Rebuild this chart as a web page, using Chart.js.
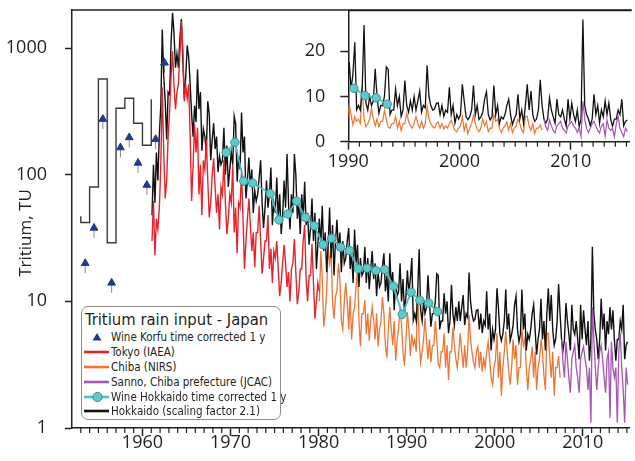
<!DOCTYPE html>
<html lang="en">
<head>
<meta charset="UTF-8">
<title>Tritium rain input - Japan</title>
<script src="https://cdn.jsdelivr.net/npm/chart.js"></script>
<style>
    body { margin: 0; background: #fff; }
    .wrap {
        position: relative;
        width: 635px;
        height: 461px;
        font-family: "DejaVu Sans Condensed", "Liberation Sans", sans-serif;
        color: #231f20;
    }
    #mainChart { position: absolute; left: 0; top: 0; }
    #insetChart { position: absolute; left: 300px; top: 0; }
    .legend {
        position: absolute;
        left: 81px;
        top: 306px;
        width: 200px;
        height: 114px;
        box-sizing: border-box;
        border: 1px solid #8c8c8c;
        border-radius: 7px;
        background: #fff;
    }
    .legend-title {
        font-size: 16.5px;
        line-height: 20px;
        height: 20px;
        margin-top: 3px;
        padding-left: 3px;
        white-space: nowrap;
    }
    .legend-row {
        display: flex;
        align-items: center;
        height: 14.8px;
    }
    .legend-row svg { flex: none; margin-left: 1px; }
    .legend-row span { font-size: 11.5px; line-height: 14px; white-space: nowrap; margin-left: 2px; }
</style>
</head>
<body>
<div class="wrap">
    <canvas id="mainChart" width="635" height="461"></canvas>
    <canvas id="insetChart" width="335" height="175"></canvas>
    <div class="legend" id="legend"></div>
</div>

<script>
    // Wine Korfu, time corrected 1 y (annual points)
    const korfuYears = [1953.5, 1954.5, 1955.5, 1956.5, 1957.5, 1958.5, 1959.5, 1960.5, 1961.5, 1962.5];
    const korfuTU = [20, 38, 275, 14, 164, 197, 124, 83, 191, 766];

    // early annual estimate drawn as a step line (value holds until next year)
    const stepYears = [1953, 1953, 1954, 1955, 1956, 1957, 1958, 1959, 1960, 1961];
    const stepTU = [47, 42, 80, 570, 29, 335, 402, 255, 171, 394];

    // bimonthly series, 6 values per year from the start year
    const tokyoStart = 1961;
    const tokyoTU = [
        30, 62, 23, 45, 37, 55,
        120, 490, 150, 65, 90, 200,
        320, 600, 946, 500, 330, 450,
        520, 900, 1630, 1000, 380, 500,
        400, 518, 200, 62, 120, 250,
        150, 235, 70, 120, 48, 130,
        110, 190, 90, 46, 60, 100,
        135, 80, 50, 70, 37, 80,
        70, 130, 60, 34, 45, 70,
        60, 120, 35, 55, 24, 60,
        55, 108, 45, 18, 30, 45,
        65, 40, 25, 35, 18.6, 35,
        35, 57, 30, 16.5, 22, 30,
        30, 48, 18, 26, 14, 25,
        22, 30, 18, 11, 14, 20,
        28, 20, 13, 17, 10, 18,
        20, 31, 17, 9.5, 12, 18,
        18, 30, 40, 15, 10, 16,
        16, 28.5, 14, 7.3, 10, 14,
        12
    ];

    const chibaStart = 1980;
    const chibaTU = [
        10, 25, 15, 6.3, 8, 12,
        27, 20, 25, 10, 7.3, 11,
        12, 20, 15, 7, 6, 10,
        14, 10, 6, 11, 5, 8,
        9, 13, 17.8, 7, 4.4, 8,
        8, 10.2, 5.5, 8, 4.9, 7,
        9, 7, 5, 8, 4.4, 6,
        7, 10.8, 8, 4.5, 3.6, 6,
        9, 6, 4.5, 7, 3.4, 5,
        6, 9, 6.5, 4, 3.1, 5,
        8.2, 6, 3.7, 5.5, 4.5, 5,
        4, 12.2, 5, 3.3, 4, 5,
        7.4, 5, 3.5, 5, 3.3, 4.5,
        4.5, 7, 5, 3.2, 3, 4,
        4, 5.6, 3, 4.5, 2.4, 4,
        4, 6.3, 4.5, 3.5, 3, 4,
        5.6, 4, 3, 4.5, 3, 4,
        7.8, 5, 4, 3.3, 3, 4,
        4.4, 3, 4, 2.8, 3.5, 3,
        4, 4.8, 3.5, 2.5, 2.2, 3,
        3.5, 5.6, 2.5, 4, 1.8, 3,
        4, 5.8, 4, 2.8, 2.2, 3,
        5, 3.5, 4.5, 2.2, 3, 3,
        6, 4.5, 5, 3, 2, 3,
        3.5, 4.4, 2.5, 4, 2, 3,
        3.5, 5, 4, 2.6, 2, 5.6,
        5.6, 3.5, 2.5, 4, 1.8, 3,
        3, 3.7, 2.5
    ];

    const sannoStart = 2007.5;
    const sannoTU = [
        5, 3.3, 2.5,
        4.8, 3.5, 2.5, 1.9, 3.5, 4,
        4.5, 3, 2.5, 1.9, 3.5, 4,
        4.4, 3.5, 3, 2, 3, 1.1,
        9, 5, 3, 2, 3, 4,
        4.5, 3.5, 2.5, 1.9, 3.5, 4,
        1.2, 4.8, 3, 2.5, 3, 1.1,
        4, 5.6, 3, 2, 1.1, 3,
        2.2
    ];

    const hokkaidoStart = 1961;
    const hokkaidoTU = [
        48, 120, 60, 150, 90, 210,
        350, 1400, 600, 380, 190, 450,
        430, 1100, 1900, 1300, 700, 900,
        700, 1200, 1700, 800, 400, 600,
        1050, 850, 520, 300, 200, 350,
        260, 680, 330, 450, 155, 230,
        200, 150, 380, 300, 130, 190,
        255, 160, 200, 105, 140, 120,
        130, 235, 100, 170, 80, 110,
        150, 120, 290, 250, 88, 140,
        110, 310, 150, 200, 65, 90,
        137, 80, 110, 50, 75, 62,
        70, 95, 130, 60, 38, 55,
        90, 55, 70, 114, 40, 60,
        50, 95, 45, 70, 34, 48,
        90, 55, 146, 60, 37, 70,
        50, 146, 100, 45, 60, 34,
        70, 45, 88, 40, 50, 28,
        38, 65, 30, 50, 18, 28,
        45, 28, 57, 25, 35, 17,
        28, 55, 22, 40, 16, 30,
        44, 25, 35, 17, 30, 20,
        22, 30, 38, 18, 24, 14,
        37, 20, 28, 13, 22, 16,
        17, 27, 14, 22, 12.5, 18,
        25, 15, 20, 11, 17, 13,
        14, 19, 24, 12, 16, 10,
        24, 13, 17, 8.5, 14, 11,
        12, 20, 10, 15, 8, 11,
        17.6, 11.6, 15, 22, 7.1, 8,
        7, 12, 25.8, 8.6, 7, 10,
        8, 9, 16.1, 10, 6.3, 8,
        8, 10, 16.5, 16, 6, 7,
        7, 11.6, 8, 10, 5.6, 7,
        13.5, 8, 6.5, 9, 7, 10,
        7, 9, 11.2, 6.5, 8, 7.5,
        16.9, 10, 8, 7, 7.2, 8.5,
        8.6, 6, 8, 5.6, 7, 6.5,
        12, 6, 8, 4.1, 6, 5,
        6, 12.7, 9, 5.5, 4.9, 5.5,
        7, 12.4, 6, 8, 4.9, 5.5,
        6.5, 9.4, 11, 6, 4.8, 5.5,
        12.4, 6, 8, 4.1, 5.5, 5,
        6, 8, 9.4, 6, 3.8, 5,
        6, 10.5, 5, 7, 4.1, 8,
        12.7, 7, 11.2, 6, 4.5, 5,
        7, 13.7, 8, 5, 4.1, 5,
        9.7, 7, 5.5, 4.1, 9.4, 6,
        5.5, 7, 5, 3.5, 9.4, 5,
        8.5, 6, 4.5, 7, 3.4, 5,
        27, 8, 6, 5, 3.5, 5,
        10.5, 6, 8, 4.1, 7, 5.5,
        9, 6, 8.5, 5, 3.4, 5,
        5, 7, 6, 9.4, 3.5, 4.5,
        4.8
    ];

    // Wine Hokkaido, time corrected 1 y
    const wineYears = [1969.5, 1970.5, 1971.5, 1972.5, 1974.5, 1975.5, 1976.5, 1977.5, 1978.5, 1979.5,
        1980.5, 1981.5, 1982.5, 1983.5, 1984.5, 1985.5, 1986.5, 1987.5, 1988.5, 1989.5,
        1990.5, 1991.5, 1992.5, 1993.5];
    const wineTU = [150, 180, 89, 86, 71, 44, 49, 62, 46, 39.5,
        28, 31.5, 26.8, 25.2, 18.1, 18.3, 17.5, 17.8, 13.2, 7.9,
        11.8, 10.2, 9.7, 8.3];

    const mainXTicks = [1960, 1970, 1980, 1990, 2000, 2010];
    const mainYTicks = [1, 10, 100, 1000];
    const insetXTicks = [1990, 2000, 2010];
    const insetYTicks = [0, 10, 20];

    const INK = '#231f20';
    const NAVY = '#1f3c88';
    const RED = '#e8222b';
    const ORANGE = '#f07432';
    const PURPLE = '#a555b3';
    const CYAN = '#4cbfc3';
    const CYAN_DARK = '#2c969b';
    const FONT = '"Open Sans", "Liberation Sans", sans-serif';
    const TICK_FONT = { family: FONT, size: 18, lineHeight: 1 };

    function bimonthly(start, values) {
        return values.map((v, i) => ({ x: start + (i + 0.5) / 6, y: v }));
    }
    function paired(xs, ys) {
        return xs.map((x, i) => ({ x: x, y: ys[i] }));
    }
    // keep the chart area exactly where the axes say, no room added for end labels
    function noPad(s) {
        s.paddingTop = 0; s.paddingBottom = 0; s.paddingLeft = 0; s.paddingRight = 0;
    }

    // minor year ticks, top border, error whiskers on the Korfu triangles, y title
    const framePlugin = {
        id: 'frame',
        beforeDatasetsDraw(chart, args, opts) {
            if (opts.whiskers === undefined) return;
            const meta = chart.getDatasetMeta(opts.whiskers);
            const ctx = chart.ctx;
            ctx.save();
            ctx.strokeStyle = '#8a8a8a';
            ctx.lineWidth = 1;
            meta.data.forEach(p => {
                ctx.beginPath();
                ctx.moveTo(p.x, p.y - 4);
                ctx.lineTo(p.x, p.y + 10);
                ctx.stroke();
            });
            ctx.restore();
        },
        afterDraw(chart, args, opts) {
            const ctx = chart.ctx;
            const area = chart.chartArea;
            const xs = chart.scales.x;
            ctx.save();
            ctx.strokeStyle = INK;
            ctx.lineWidth = 1.5;
            ctx.beginPath();
            ctx.moveTo(area.left, area.top);
            ctx.lineTo(area.right + 2, area.top);
            ctx.stroke();
            ctx.lineWidth = 1.2;
            for (let yr = opts.firstYear; yr <= opts.lastYear; yr++) {
                if (yr % 10 === 0) continue;
                const px = xs.getPixelForValue(yr);
                ctx.beginPath();
                ctx.moveTo(px, area.bottom);
                ctx.lineTo(px, area.bottom + 5);
                ctx.stroke();
            }
            if (opts.yTitle) {
                ctx.fillStyle = INK;
                ctx.font = '17px ' + FONT;
                ctx.textAlign = 'center';
                ctx.textBaseline = 'middle';
                ctx.translate(opts.yTitle.x, opts.yTitle.y);
                ctx.rotate(-Math.PI / 2);
                ctx.fillText(opts.yTitle.text, 0, 0);
            }
            ctx.restore();
        }
    };

    function axisX(min, max, ticks, height, padding) {
        return {
            type: 'linear', min: min, max: max,
            afterBuildTicks: s => { s.ticks = ticks.map(value => ({ value })); },
            afterFit: s => { s.height = height; noPad(s); },
            grid: { drawOnChartArea: false, tickLength: 8, tickWidth: 1.5, tickColor: INK },
            border: { color: INK, width: 1.5 },
            ticks: { color: INK, font: TICK_FONT, padding: padding, maxRotation: 0, autoSkip: false, callback: v => String(v) }
        };
    }

    const mainChart = new Chart(document.getElementById('mainChart'), {
        type: 'line',
        data: {
            datasets: [
                { label: 'Wine Korfu time corrected 1 y', data: paired(korfuYears, korfuTU), showLine: false,
                  pointStyle: 'triangle', pointRadius: 4.5, backgroundColor: NAVY, borderColor: NAVY, borderWidth: 1, order: 0 },
                { label: 'Tokyo (IAEA)', data: bimonthly(tokyoStart, tokyoTU), borderColor: RED, borderWidth: 1.4, pointRadius: 0, order: 2 },
                { label: 'Chiba (NIRS)', data: bimonthly(chibaStart, chibaTU), borderColor: ORANGE, borderWidth: 1.3, pointRadius: 0, order: 4 },
                { label: 'Sanno, Chiba prefecture (JCAC)', data: bimonthly(sannoStart, sannoTU), borderColor: PURPLE, borderWidth: 1.3, pointRadius: 0, order: 2 },
                { label: 'Wine Hokkaido time corrected 1 y', data: paired(wineYears, wineTU), borderColor: CYAN, borderWidth: 1.8,
                  pointRadius: 4.2, pointBackgroundColor: '#62c8ca', pointBorderColor: CYAN_DARK, pointBorderWidth: 1, order: 1 },
                { label: 'Hokkaido (scaling factor 2.1)', data: bimonthly(hokkaidoStart, hokkaidoTU), borderColor: '#111', borderWidth: 1.4, pointRadius: 0, order: 3 },
                { label: 'early estimate', data: paired(stepYears, stepTU), stepped: true, borderColor: '#3a3a3a', borderWidth: 1.4, pointRadius: 0, order: 3, noLegend: true }
            ]
        },
        options: {
            responsive: false,
            animation: false,
            layout: { padding: { top: 10, right: 1, left: 0, bottom: 0 } },
            plugins: {
                legend: { display: false },
                tooltip: { enabled: false },
                frame: { firstYear: 1953, lastYear: 2015, whiskers: 0, yTitle: { text: 'Tritium, TU', x: 26, y: 233 } }
            },
            scales: {
                x: axisX(1952, 2015.3, mainXTicks, 33, -2),
                y: {
                    type: 'logarithmic', min: 1, max: 2000,
                    afterBuildTicks: s => { s.ticks = mainYTicks.map(value => ({ value })); },
                    afterFit: s => { s.width = 72; noPad(s); },
                    grid: { drawOnChartArea: false, tickLength: 7, tickWidth: 1.5, tickColor: INK },
                    border: { color: INK, width: 1.5 },
                    ticks: { color: INK, font: TICK_FONT, padding: 18, callback: v => String(v) }
                }
            }
        },
        plugins: [framePlugin]
    });

    const inInset = p => p.x >= 1989.8;
    new Chart(document.getElementById('insetChart'), {
        type: 'line',
        data: {
            datasets: [
                { data: bimonthly(chibaStart, chibaTU).filter(inInset), borderColor: ORANGE, borderWidth: 1.2, pointRadius: 0, order: 4 },
                { data: bimonthly(sannoStart, sannoTU), borderColor: PURPLE, borderWidth: 1.2, pointRadius: 0, order: 2 },
                { data: paired(wineYears, wineTU).filter(inInset), borderColor: CYAN, borderWidth: 1.8,
                  pointRadius: 4.2, pointBackgroundColor: '#62c8ca', pointBorderColor: CYAN_DARK, pointBorderWidth: 1, order: 1 },
                { data: bimonthly(hokkaidoStart, hokkaidoTU).filter(inInset), borderColor: '#111', borderWidth: 1.3, pointRadius: 0, order: 3 }
            ]
        },
        options: {
            responsive: false,
            animation: false,
            layout: { padding: { top: 10.5, right: 2, left: 0, bottom: 0 } },
            plugins: {
                legend: { display: false },
                tooltip: { enabled: false },
                frame: { firstYear: 1991, lastYear: 2015 }
            },
            scales: {
                x: axisX(1990, 2015.3, insetXTicks, 33.3, 3),
                y: {
                    type: 'linear', min: 0, max: 29,
                    afterBuildTicks: s => { s.ticks = insetYTicks.map(value => ({ value })); },
                    afterFit: s => { s.width = 48.3; noPad(s); },
                    grid: { drawOnChartArea: false, tickLength: 8, tickWidth: 1.5, tickColor: INK },
                    border: { color: INK, width: 1.5 },
                    ticks: { color: INK, font: TICK_FONT, padding: 15, callback: v => String(v) }
                }
            }
        },
        plugins: [framePlugin]
    });

    // html legend built from the main chart datasets
    function swatch(ds) {
        const w = 26, h = 14, mid = 7;
        let inner = '';
        if (ds.pointStyle === 'triangle') {
            inner = `<polygon points="14,${mid - 4} 18.5,${mid + 3.5} 9.5,${mid + 3.5}" fill="${ds.backgroundColor}"/>`;
        } else {
            inner = `<line x1="1" y1="${mid}" x2="26" y2="${mid}" stroke="${ds.borderColor}" stroke-width="2.6"/>`;
            if (ds.pointRadius > 0) {
                inner += `<circle cx="14.5" cy="${mid}" r="4.6" fill="${ds.pointBackgroundColor}" stroke="${ds.pointBorderColor}" stroke-width="1"/>`;
            }
        }
        return `<svg width="${w}" height="${h}" viewBox="0 0 ${w} ${h}">${inner}</svg>`;
    }

    let legendHTML = '<div class="legend-title">Tritium rain input - Japan</div>';
    mainChart.data.datasets.forEach(ds => {
        if (ds.noLegend) return;
        legendHTML += `<div class="legend-row">${swatch(ds)}<span>${ds.label}</span></div>`;
    });
    document.getElementById('legend').innerHTML = legendHTML;
</script>
</body>
</html>
